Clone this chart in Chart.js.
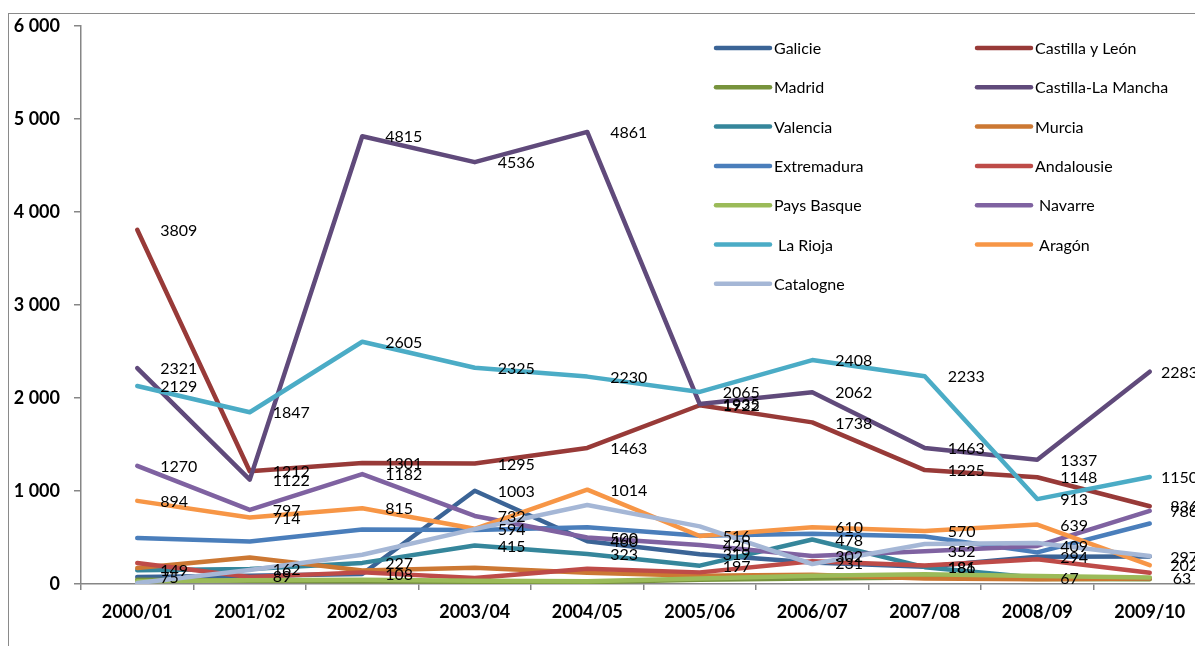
<!DOCTYPE html>
<html>
<head>
<meta charset="utf-8">
<script src="https://cdn.jsdelivr.net/npm/chart.js@4.4.1/dist/chart.umd.min.js"></script>
<style>
  html, body { margin: 0; padding: 0; background: #fff; overflow: hidden; }
  #frame { position: absolute; left: 8px; top: 13px; width: 1300px; height: 700px; border: 1.5px solid #8a8a8a; }
  #wrap { position: absolute; left: 0; top: 0; width: 1220px; height: 646px; }
</style>
</head>
<body>
<div id="frame"></div>
<div id="wrap"><canvas id="chart" width="1220" height="646"></canvas></div>
<script>
// seasons on the x axis
const seasons = ['2000/01','2001/02','2002/03','2003/04','2004/05','2005/06','2006/07','2007/08','2008/09','2009/10'];
const yTicks = [0, 1000, 2000, 3000, 4000, 5000, 6000];

// one array per region
const galicie        = [75, 89, 108, 1003, 460, 319, 231, 186, 294, 297];
const castillaLeon   = [3809, 1212, 1301, 1295, 1463, 1922, 1738, 1225, 1148, 836];
const madrid         = [45, 35, 30, 25, 20, 45, 60, 70, 55, 50];
const castillaMancha = [2321, 1122, 4815, 4536, 4861, 1935, 2062, 1463, 1337, 2283];
const valencia       = [149, 162, 227, 415, 323, 197, 478, 181, 67, 63];
const murcia         = [172, 286, 146, 175, 120, 90, 100, 60, 50, 60];
const extremadura    = [494, 458, 585, 580, 610, 520, 540, 510, 340, 650];
const andalousie     = [226, 75, 125, 65, 164, 125, 245, 200, 265, 120];
const paysBasque     = [30, 40, 45, 35, 30, 60, 90, 105, 85, 70];
const navarre        = [1270, 797, 1182, 732, 500, 420, 302, 352, 409, 786];
const laRioja        = [2129, 1847, 2605, 2325, 2230, 2065, 2408, 2233, 913, 1150];
const aragon         = [894, 714, 815, 594, 1014, 516, 610, 570, 639, 202];
const catalogne      = [10, 150, 315, 590, 850, 620, 215, 430, 440, 300];

const series = [
  ['Galicie', galicie, '#3b6496', true],
  ['Castilla y León', castillaLeon, '#983a38', true],
  ['Madrid', madrid, '#77933c', false],
  ['Castilla-La Mancha', castillaMancha, '#604a7b', true],
  ['Valencia', valencia, '#35869b', true],
  ['Murcia', murcia, '#cc7833', false],
  ['Extremadura', extremadura, '#4a7ebb', false],
  ['Andalousie', andalousie, '#be4b48', false],
  ['Pays Basque', paysBasque, '#9bbb59', false],
  [' Navarre', navarre, '#7f62a1', true],
  [' La Rioja', laRioja, '#4bacc6', true],
  [' Aragón', aragon, '#f79646', true],
  ['Catalogne', catalogne, '#a5b7d6', false]
];

const fmt = v => String(v).replace(/\B(?=(\d{3})+(?!\d))/g, ' ');

// value labels to the right of each point, pushed back inside near the edge like Excel
const valueLabels = {
  id: 'valueLabels',
  afterDatasetsDraw(chart) {
    const ctx = chart.ctx;
    const maxRight = chart.chartArea.right - 8;
    ctx.save();
    ctx.font = '16px Lato';
    ctx.fillStyle = '#000';
    ctx.textAlign = 'left';
    ctx.textBaseline = 'middle';
    chart.data.datasets.forEach((ds, i) => {
      if (!ds.showValues) return;
      chart.getDatasetMeta(i).data.forEach((pt, j) => {
        const txt = String(ds.data[j]);
        const w = ctx.measureText(txt).width;
        ctx.fillText(txt, Math.min(pt.x + 23, maxRight - w), pt.y + 1);
      });
    });
    ctx.restore();
  }
};

// two-column legend inside the plot
const sideLegend = {
  id: 'sideLegend',
  afterDraw(chart) {
    const ctx = chart.ctx;
    ctx.save();
    ctx.font = '16px Lato';
    ctx.textBaseline = 'middle';
    ctx.lineCap = 'round';
    ctx.lineWidth = 4.5;
    chart.data.datasets.forEach((ds, i) => {
      const col = i % 2, row = Math.floor(i / 2);
      const x = col ? 977 : 716;
      const y = 48 + row * 39.3;
      ctx.strokeStyle = ds.borderColor;
      ctx.beginPath();
      ctx.moveTo(x, y);
      ctx.lineTo(x + 54, y);
      ctx.stroke();
      ctx.fillStyle = '#000';
      ctx.fillText(ds.label, x + 58, y + 1);
    });
    ctx.restore();
  }
};

const datasets = series.map((s, i) => ({
  label: s[0],
  data: s[1],
  borderColor: s[2],
  backgroundColor: s[2],
  showValues: s[3],
  borderWidth: 4.5,
  pointRadius: 0,
  tension: 0,
  borderJoinStyle: 'round',
  borderCapStyle: 'round',
  order: series.length - i
}));

function draw() {
  new Chart(document.getElementById('chart'), {
    type: 'line',
    data: { labels: seasons, datasets: datasets },
    options: {
      responsive: false,
      animation: false,
      layout: { padding: { left: 0, right: 14, top: 26, bottom: 0 } },
      plugins: { legend: { display: false }, tooltip: { enabled: false } },
      scales: {
        x: {
          offset: true,
          grid: { offset: true, drawOnChartArea: false, tickLength: 6, color: '#868686', lineWidth: 1.5 },
          border: { color: '#868686', width: 1.5 },
          ticks: { color: '#000', padding: 11, maxRotation: 0, font: { family: 'Lato', size: 18, weight: 'bold' } },
          afterFit(scale) { scale.height = 62; }
        },
        y: {
          min: 0,
          max: 6000,
          afterBuildTicks(scale) { scale.ticks = yTicks.map(v => ({ value: v })); },
          grid: { drawOnChartArea: false, tickLength: 7, color: '#868686', lineWidth: 1.5 },
          border: { color: '#868686', width: 1.5 },
          ticks: { color: '#000', padding: 14, callback: v => fmt(v), font: { family: 'Lato', size: 18, weight: 'bold' } },
          afterFit(scale) { scale.width = 81; }
        }
      }
    },
    plugins: [valueLabels, sideLegend]
  });
}

Promise.all([
  document.fonts.load('16px Lato'),
  document.fonts.load('bold 18px Lato')
]).then(draw, draw);
</script>
</body>
</html>
